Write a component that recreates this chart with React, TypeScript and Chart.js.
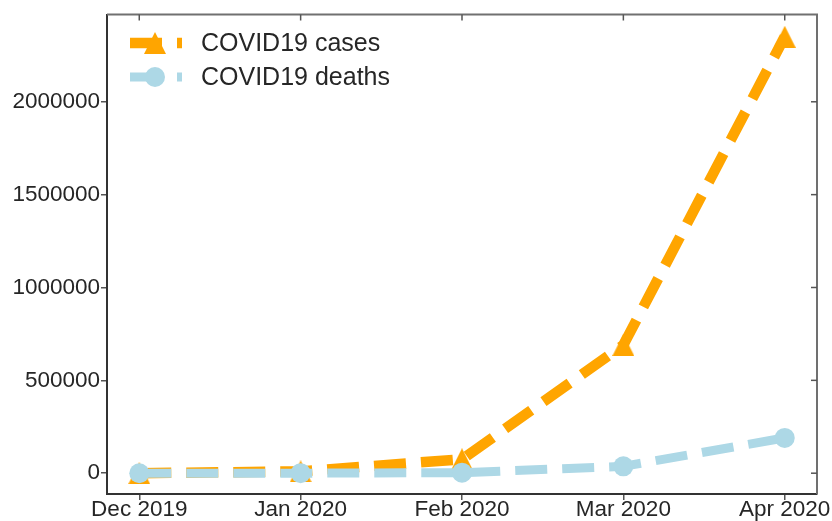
import React, { useEffect, useRef } from 'react';
import { Chart, registerables } from 'chart.js';

Chart.register(...registerables);

const months = ['Dec 2019', 'Jan 2020', 'Feb 2020', 'Mar 2020', 'Apr 2020'];
const cases = [0, 9800, 75000, 690000, 2350000];
const deaths = [0, 200, 2900, 37000, 190000];
const yTicks = [0, 500000, 1000000, 1500000, 2000000];
const seriesNames = ['COVID19 cases', 'COVID19 deaths'];

const ORANGE = '#FFA500';
const BLUE = '#ADD8E6';
const TEXT = '#262626';
const FONT = '"Liberation Sans", Arial, sans-serif';

function makeTriangle(size: number, color: string): HTMLCanvasElement {
  const c = document.createElement('canvas');
  c.width = size;
  c.height = size;
  const ctx = c.getContext('2d')!;
  ctx.fillStyle = color;
  ctx.beginPath();
  ctx.moveTo(size / 2, 0);
  ctx.lineTo(size, size);
  ctx.lineTo(0, size);
  ctx.closePath();
  ctx.fill();
  return c;
}

export default function App() {
  const ref = useRef<HTMLCanvasElement>(null);

  useEffect(() => {
    document.body.style.margin = '0';
    const tri = makeTriangle(22, ORANGE);

    const framePlugin = {
      id: 'frame',
      afterDraw(chart: any) {
        const { ctx, chartArea } = chart;
        const { left, right, top, bottom } = chartArea;
        const xs = chart.scales.x;
        const ys = chart.scales.y;
        ctx.save();
        ctx.strokeStyle = '#707070';
        ctx.lineWidth = 2;
        ctx.beginPath();
        ctx.moveTo(left, top);
        ctx.lineTo(right, top);
        ctx.lineTo(right, bottom);
        ctx.stroke();
        ctx.lineWidth = 1.5;
        ctx.strokeStyle = '#555';
        for (let i = 0; i < months.length; i++) {
          const px = xs.getPixelForValue(i);
          ctx.beginPath();
          ctx.moveTo(px, top);
          ctx.lineTo(px, top + 6);
          ctx.stroke();
        }
        for (const v of yTicks) {
          const py = ys.getPixelForValue(v);
          ctx.beginPath();
          ctx.moveTo(right, py);
          ctx.lineTo(right - 6, py);
          ctx.stroke();
        }
        const rows = [
          { name: seriesNames[0], color: ORANGE, marker: 'tri', w: 10.5 },
          { name: seriesNames[1], color: BLUE, marker: 'circle', w: 9 },
        ];
        rows.forEach((r, i) => {
          const y = 43 + 34 * i;
          ctx.save();
          ctx.strokeStyle = r.color;
          ctx.lineWidth = r.w;
          ctx.setLineDash([32, 15]);
          ctx.beginPath();
          ctx.moveTo(130, y);
          ctx.lineTo(182, y);
          ctx.stroke();
          ctx.restore();
          if (r.marker === 'tri') {
            ctx.drawImage(tri, 155 - 11, y - 11);
          } else {
            ctx.fillStyle = r.color;
            ctx.beginPath();
            ctx.arc(155, y, 10, 0, Math.PI * 2);
            ctx.fill();
          }
          ctx.fillStyle = TEXT;
          ctx.font = `25px ${FONT}`;
          ctx.textBaseline = 'middle';
          ctx.textAlign = 'left';
          ctx.fillText(r.name, 201, y + 1);
        });
        ctx.restore();
      },
    };

    const chart = new Chart(ref.current!, {
      type: 'line',
      data: {
        datasets: [
          {
            label: seriesNames[0],
            data: cases.map((v, i) => ({ x: i, y: v })),
            borderColor: ORANGE,
            backgroundColor: ORANGE,
            borderWidth: 10.5,
            borderDash: [32, 15],
            pointStyle: tri as any,
            pointRadius: 11,
            pointBorderWidth: 0,
            tension: 0,
            order: 1,
          },
          {
            label: seriesNames[1],
            data: deaths.map((v, i) => ({ x: i, y: v })),
            borderColor: BLUE,
            backgroundColor: BLUE,
            borderWidth: 9,
            borderDash: [32, 15],
            pointStyle: 'circle',
            pointRadius: 10,
            pointBorderWidth: 0,
            tension: 0,
            order: 0,
          },
        ],
      },
      options: {
        animation: false,
        responsive: false,
        maintainAspectRatio: false,
        layout: { padding: { left: 0, right: 15, top: 11, bottom: 0 } },
        plugins: {
          legend: { display: false },
          tooltip: { enabled: false },
        },
        scales: {
          x: {
            type: 'linear',
            min: -0.2,
            max: 4.2,
            afterBuildTicks: (s: any) => {
              s.ticks = months.map((_, i) => ({ value: i }));
            },
            afterFit: (s: any) => {
              s.height = 27;
            },
            ticks: {
              callback: (v: any) => months[v as number] ?? '',
              color: TEXT,
              font: { family: FONT, size: 22.5, lineHeight: 1 },
              padding: -1,
              maxRotation: 0,
              autoSkip: false,
            },
            grid: {
              drawOnChartArea: false,
              drawTicks: true,
              tickLength: 6,
              color: '#555',
              lineWidth: 1.5,
            },
            border: { display: true, color: '#333', width: 2 },
          },
          y: {
            type: 'linear',
            min: -112000,
            max: 2470000,
            afterBuildTicks: (s: any) => {
              s.ticks = yTicks.map((v) => ({ value: v }));
            },
            afterFit: (s: any) => {
              s.width = 107;
            },
            ticks: {
              callback: (v: any) => String(v),
              color: TEXT,
              font: { family: FONT, size: 22.5 },
              padding: 1,
            },
            grid: {
              drawOnChartArea: false,
              drawTicks: true,
              tickLength: 6,
              color: '#555',
              lineWidth: 1.5,
            },
            border: { display: true, color: '#333', width: 2 },
          },
        },
      },
      plugins: [framePlugin],
    });
    return () => chart.destroy();
  }, []);

  return (
    <div style={{ width: 832, height: 521 }}>
      <canvas ref={ref} width={832} height={521} style={{ display: 'block' }} />
    </div>
  );
}
